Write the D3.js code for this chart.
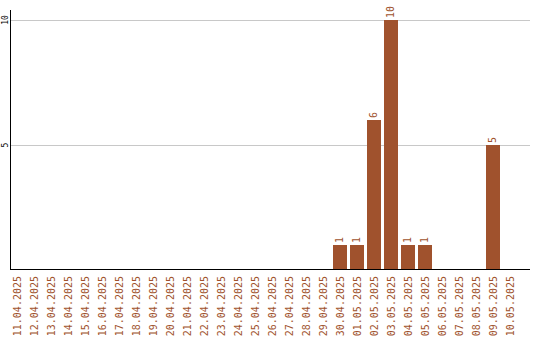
<!DOCTYPE html>
<html lang="en">
<head>
<meta charset="UTF-8">
<script src="https://d3js.org/d3.v7.min.js"></script>
<style>
    body { margin: 0; background: #fff; }
    svg text { font-family: "DejaVu Sans Mono", monospace; }
</style>
</head>
<body>
<div id="chart"></div>
<script>
    // Data
    const dates = [
        "11.04.2025", "12.04.2025", "13.04.2025", "14.04.2025", "15.04.2025",
        "16.04.2025", "17.04.2025", "18.04.2025", "19.04.2025", "20.04.2025",
        "21.04.2025", "22.04.2025", "23.04.2025", "24.04.2025", "25.04.2025",
        "26.04.2025", "27.04.2025", "28.04.2025", "29.04.2025", "30.04.2025",
        "01.05.2025", "02.05.2025", "03.05.2025", "04.05.2025", "05.05.2025",
        "06.05.2025", "07.05.2025", "08.05.2025", "09.05.2025", "10.05.2025"
    ];
    const counts = [
        0, 0, 0, 0, 0, 0, 0, 0, 0, 0,
        0, 0, 0, 0, 0, 0, 0, 0, 0, 1,
        1, 6, 10, 1, 1, 0, 0, 0, 5, 0
    ];
    const yTicks = [5, 10];

    const W = 540, H = 340;
    const color = "#a0522d";

    const svg = d3.select("#chart").append("svg")
        .attr("width", W).attr("height", H);

    const x = d3.scaleBand()
        .domain(dates)
        .range([8.5, 518.5])
        .paddingInner(0.176)
        .paddingOuter(0.088);

    const y = d3.scaleLinear()
        .domain([0, 10])
        .range([270, 20]);

    // Gridlines
    svg.append("g").selectAll("line")
        .data(yTicks)
        .join("line")
        .attr("x1", 11).attr("x2", 530)
        .attr("y1", d => Math.round(y(d)) + 0.5)
        .attr("y2", d => Math.round(y(d)) + 0.5)
        .attr("stroke", "#c8c8c8");

    // Y tick labels (rotated)
    svg.append("g").selectAll("text")
        .data(yTicks)
        .join("text")
        .attr("transform", d => `translate(8,${y(d)}) rotate(-90)`)
        .attr("text-anchor", "middle")
        .attr("font-size", 8)
        .attr("fill", "#000")
        .text(d => d);

    // Bars
    const data = dates.map((d, i) => ({ date: d, value: counts[i] }));
    svg.append("g").selectAll("rect")
        .data(data.filter(d => d.value > 0))
        .join("rect")
        .attr("x", d => Math.round(x(d.date)))
        .attr("width", Math.round(x.bandwidth()))
        .attr("y", d => y(d.value))
        .attr("height", d => y(0) - y(d.value))
        .attr("fill", color);

    // Value labels
    svg.append("g").selectAll("text")
        .data(data.filter(d => d.value > 0))
        .join("text")
        .attr("transform", d => `translate(${Math.round(x(d.date)) + x.bandwidth() / 2 + 3},${y(d.value) - 2}) rotate(-90)`)
        .attr("text-anchor", "start")
        .attr("font-size", 10)
        .attr("fill", color)
        .text(d => d.value);

    // Axes lines
    svg.append("line")
        .attr("x1", 10.5).attr("x2", 10.5)
        .attr("y1", 10).attr("y2", 270)
        .attr("stroke", "#000");
    svg.append("line")
        .attr("x1", 10).attr("x2", 530)
        .attr("y1", 269.5).attr("y2", 269.5)
        .attr("stroke", "#000");

    // X labels (rotated)
    svg.append("g").selectAll("text")
        .data(dates)
        .join("text")
        .attr("transform", d => `translate(${Math.round(x(d)) + x.bandwidth() / 2 + 4},276) rotate(-90)`)
        .attr("text-anchor", "end")
        .attr("font-size", 10)
        .attr("fill", color)
        .text(d => d);
</script>
</body>
</html>
